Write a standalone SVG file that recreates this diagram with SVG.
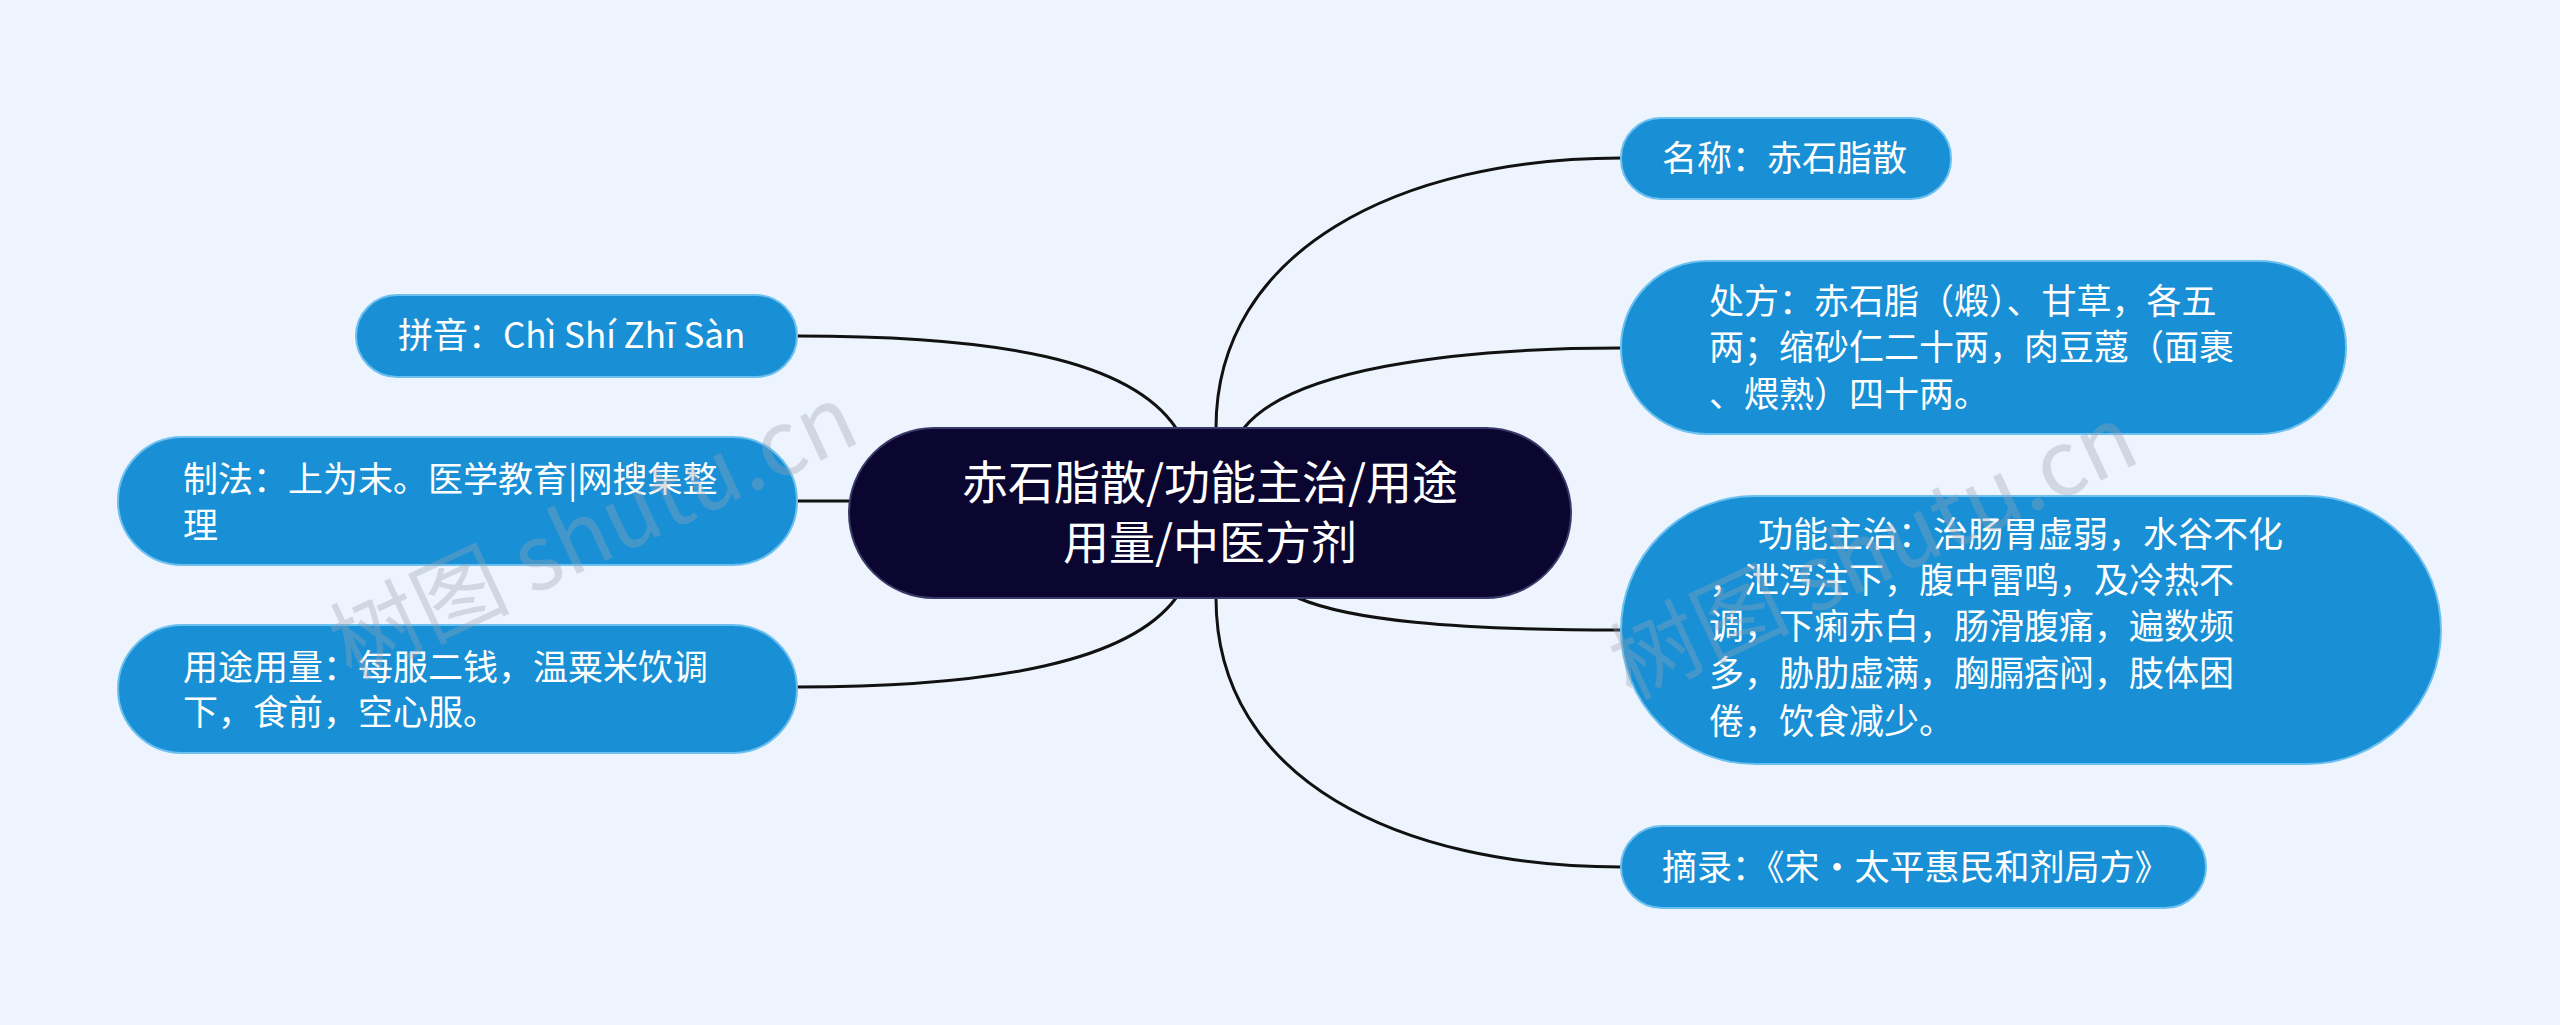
<svg xmlns="http://www.w3.org/2000/svg" width="2560" height="1025" viewBox="0 0 2560 1025">
<style>
.n{fill:#1990d5;stroke:#6cc0f0;stroke-width:2}
.t{font-family:"Noto Sans CJK SC","Noto Sans",sans-serif;font-size:35px;fill:#fff}
.c{fill:none;stroke:#111;stroke-width:3}
.w{font-family:"Noto Sans CJK SC","Liberation Serif",serif;font-size:90px;fill:#9aa4b4;opacity:0.35}
</style>
<rect width="2560" height="1025" fill="#eef4fe"/>
<g id="connectors">
<path class="c" d="M1216 428 C1216 250 1400 158 1621 158"/>
<path class="c" d="M1244 428 C1290 370 1450 348 1621 348"/>
<path class="c" d="M1298 598 C1350 620 1450 630 1621 630"/>
<path class="c" d="M1216 598 C1216 780 1400 867 1621 867"/>
<path class="c" d="M1176 428 C1130 360 1000 336 797 336"/>
<path class="c" d="M849 501 L797 501"/>
<path class="c" d="M1176 598 C1130 660 1000 687 797 687"/>
</g>
<g id="center">
<rect x="849" y="428" width="722" height="170" rx="85" fill="#0a0630" stroke="#3a3a6a" stroke-width="2"/>
<text class="t" style="font-size:46px" x="1210" y="499" text-anchor="middle">赤石脂散/功能主治/用途</text>
<text class="t" style="font-size:46px" x="1210" y="559" text-anchor="middle">用量/中医方剂</text>
</g>
<g id="n1"><rect class="n" x="1621" y="118" width="330" height="81" rx="40"/>
<text class="t" x="1662" y="171">名称：赤石脂散</text></g>
<g id="n2"><rect class="n" x="1621" y="261" width="725" height="173" rx="86"/>
<text class="t" x="1709" y="314">处方：赤石脂（煅）、甘草，各五</text>
<text class="t" x="1709" y="360">两；缩砂仁二十两，肉豆蔻（面裹</text>
<text class="t" x="1709" y="407">、煨熟）四十两。</text></g>
<g id="n3"><rect class="n" x="1621" y="496" width="820" height="268" rx="134"/>
<text class="t" x="1758" y="547">功能主治：治肠胃虚弱，水谷不化</text>
<text class="t" x="1709" y="593">，泄泻注下，腹中雷鸣，及冷热不</text>
<text class="t" x="1709" y="639">调，下痢赤白，肠滑腹痛，遍数频</text>
<text class="t" x="1709" y="686">多，胁肋虚满，胸膈痞闷，肢体困</text>
<text class="t" x="1709" y="734">倦，饮食减少。</text></g>
<g id="n4"><rect class="n" x="1621" y="826" width="585" height="82" rx="41"/>
<text class="t" x="1662" y="880">摘录：《宋·太平惠民和剂局方》</text></g>
<g id="n5"><rect class="n" x="356" y="295" width="441" height="82" rx="41"/>
<text class="t" x="398" y="348">拼音：Chì Shí Zhī Sàn</text></g>
<g id="n6"><rect class="n" x="118" y="437" width="679" height="128" rx="64"/>
<text class="t" x="183" y="492">制法：上为末。医学教育|网搜集整</text>
<text class="t" x="183" y="538">理</text></g>
<g id="n7"><rect class="n" x="118" y="625" width="679" height="128" rx="64"/>
<text class="t" x="183" y="680">用途用量：每服二钱，温粟米饮调</text>
<text class="t" x="183" y="725">下，食前，空心服。</text></g>
<text class="w" transform="translate(350 680) rotate(-25)">树图 shutu.cn</text>
<text class="w" transform="translate(1630 700) rotate(-25)">树图 shutu.cn</text>
</svg>
